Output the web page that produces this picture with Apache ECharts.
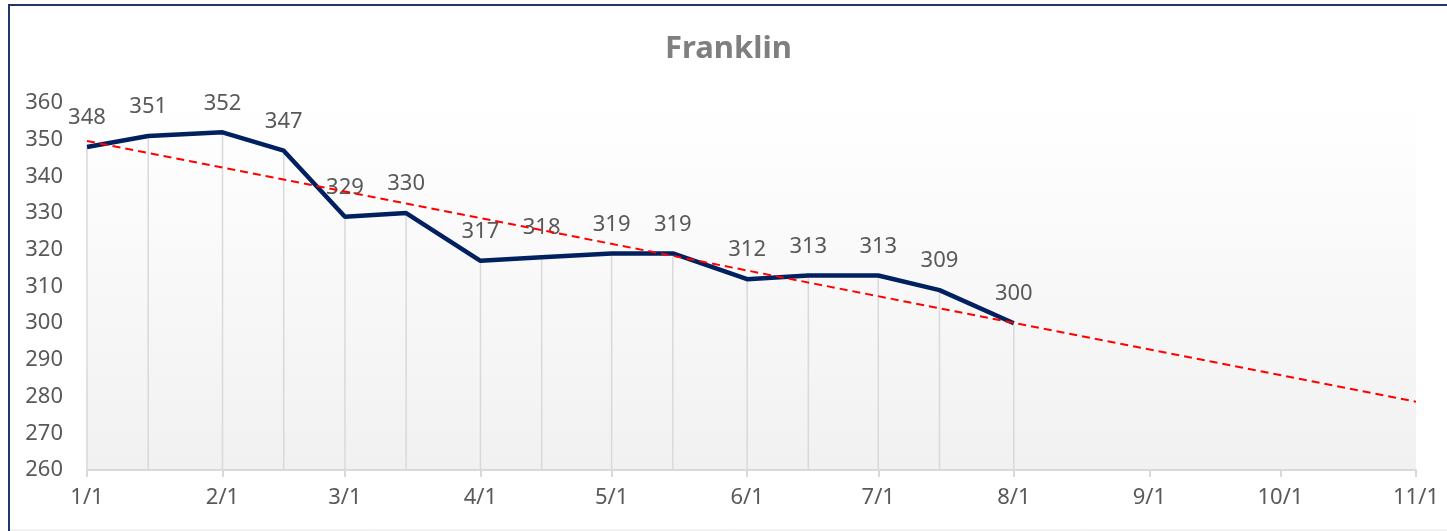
<!DOCTYPE html>
<html>
<head>
<meta charset="utf-8">
<script src="https://cdn.jsdelivr.net/npm/echarts@6/dist/echarts.min.js"></script>
<style>
  html, body { margin: 0; padding: 0; background: #fff; }
  #main { width: 1447px; height: 531px; }
</style>
</head>
<body>
<div id="main"></div>
<script>
// readings, 1st and 15th of each month
const dates = ['2023-01-01', '2023-01-15', '2023-02-01', '2023-02-15', '2023-03-01', '2023-03-15',
  '2023-04-01', '2023-04-15', '2023-05-01', '2023-05-15', '2023-06-01', '2023-06-15',
  '2023-07-01', '2023-07-15', '2023-08-01'];
const values = [348, 351, 352, 347, 329, 330, 317, 318, 319, 319, 312, 313, 313, 309, 300];
const trendEnd = ['2023-01-01', '2023-11-01'];
const yMin = 260, yMax = 360;

const toDate = s => { const p = s.split('-'); return new Date(+p[0], +p[1] - 1, +p[2]).getTime(); };
const xs = dates.map(toDate);

// linear trend (least squares), like Excel's trendline
const n = xs.length;
const mx = xs.reduce((a, b) => a + b, 0) / n;
const my = values.reduce((a, b) => a + b, 0) / n;
let sxy = 0, sxx = 0;
for (let i = 0; i < n; i++) { sxy += (xs[i] - mx) * (values[i] - my); sxx += (xs[i] - mx) * (xs[i] - mx); }
const slope = sxy / sxx;
const trendData = trendEnd.map(s => { const t = toDate(s); return [t, my + slope * (t - mx)]; });

const font = 'Noto Sans';
const myChart = echarts.init(document.getElementById('main'));
myChart.setOption({
  animation: false,
  textStyle: { fontFamily: font },
  title: {
    text: 'Franklin',
    left: 660,
    top: 29,
    textStyle: { fontFamily: font, fontSize: 31, fontWeight: 'bold', color: '#7f7f7f' }
  },
  grid: {
    left: 87, right: 31, top: 103, bottom: 61,
    show: true,
    borderWidth: 0,
    backgroundColor: new echarts.graphic.LinearGradient(0, 0, 0, 1, [
      { offset: 0, color: '#ffffff' },
      { offset: 1, color: '#f1f1f1' }
    ])
  },
  xAxis: {
    type: 'time',
    min: toDate(trendEnd[0]),
    max: toDate(trendEnd[1]),
    splitNumber: 10,
    minInterval: 28 * 86400000,
    maxInterval: 31 * 86400000,
    axisLine: { lineStyle: { color: '#d9d9d9', width: 2 } },
    axisTick: { show: true, length: 7, lineStyle: { color: '#d9d9d9', width: 2 } },
    splitLine: { show: false },
    axisLabel: {
      color: '#595959', fontSize: 22, margin: 17,
      showMinLabel: true, showMaxLabel: true,
      formatter: v => { const d = new Date(v); return (d.getMonth() + 1) + '/' + d.getDate(); }
    }
  },
  yAxis: {
    type: 'value',
    min: yMin, max: yMax, interval: 10,
    axisLine: { show: false },
    axisTick: { show: false },
    splitLine: { show: false },
    axisLabel: { color: '#595959', fontSize: 22, margin: 24 }
  },
  graphic: [
    {
      type: 'rect', silent: true, z: -10,
      shape: { x: 9, y: 5, width: 1500, height: 600 },
      style: { fill: 'none', stroke: '#203864', lineWidth: 2 }
    },
    {
      type: 'line', silent: true,
      shape: { x1: 10, y1: 530, x2: 1447, y2: 530 },
      style: { stroke: '#e6e6e6', lineWidth: 1 }
    }
  ],
  series: [
    {
      // drop lines
      type: 'custom',
      z: 1,
      data: xs.map((t, i) => [t, values[i]]),
      renderItem: (params, api) => {
        const p1 = api.coord([api.value(0), api.value(1)]);
        const p2 = api.coord([api.value(0), yMin]);
        return {
          type: 'line',
          shape: { x1: p1[0], y1: p1[1], x2: p2[0], y2: p2[1] },
          style: { stroke: '#d9d9d9', lineWidth: 1.5 }
        };
      }
    },
    {
      name: 'Franklin',
      type: 'line',
      z: 3,
      data: xs.map((t, i) => [t, values[i]]),
      showSymbol: true,
      symbol: 'circle',
      symbolSize: 0,
      lineStyle: { color: '#002060', width: 4.5 },
      itemStyle: { color: '#002060' },
      label: {
        show: true, position: 'top', distance: 18,
        fontSize: 22, color: '#595959',
        formatter: p => p.value[1]
      },
      labelLayout: { hideOverlap: false }
    },
    {
      name: 'trend',
      type: 'line',
      z: 4,
      data: trendData,
      showSymbol: false,
      lineStyle: { color: '#ff0000', width: 2, type: [8, 5] }
    }
  ]
});
</script>
</body>
</html>
